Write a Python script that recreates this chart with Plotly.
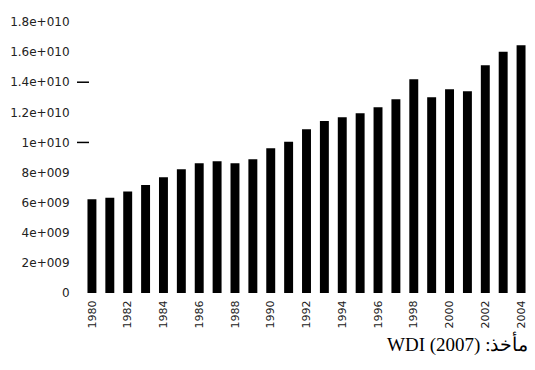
import plotly.graph_objects as go

years = list(range(1980, 2005))
values = [6.23e9, 6.33e9, 6.74e9, 7.18e9, 7.69e9, 8.22e9, 8.62e9, 8.75e9, 8.62e9, 8.88e9,
          9.61e9, 10.05e9, 10.88e9, 11.43e9, 11.67e9, 11.94e9, 12.34e9, 12.87e9, 14.2e9, 13.0e9,
          13.53e9, 13.40e9, 15.13e9, 16.03e9, 16.46e9]
x_tick_years = list(range(1980, 2005, 2))
x_tick_labels = [str(y) for y in x_tick_years]
y_tick_vals = [0, 2e9, 4e9, 6e9, 8e9, 1e10, 1.2e10, 1.4e10, 1.6e10, 1.8e10]
y_tick_labels = ["0", "2e+009", "4e+009", "6e+009", "8e+009", "1e+010",
                 "1.2e+010", "1.4e+010", "1.6e+010", "1.8e+010"]
dash_ticks = [1e10, 1.4e10]
source_text = "\u202bمأخذ: \u202aWDI (2007)\u202c\u202c"

fig = go.Figure()
fig.add_trace(go.Bar(x=years, y=values, marker=dict(color="black", line=dict(width=0))))

for v in dash_ticks:
    fig.add_shape(type="line", xref="paper", yref="y", x0=-0.0134, x1=0.0134,
                  y0=v, y1=v, line=dict(color="black", width=1.5))

fig.add_annotation(text=source_text, xref="paper", yref="paper", x=1.0, y=-0.185,
                   xanchor="right", yanchor="middle", showarrow=False,
                   font=dict(family="Liberation Serif", size=19, color="black"))

fig.update_layout(
    width=535, height=370,
    margin=dict(l=83, r=5, t=22, b=77),
    paper_bgcolor="white", plot_bgcolor="white",
    bargap=0.5, showlegend=False,
    font=dict(family="DejaVu Sans", size=12, color="#222"),
)
fig.update_xaxes(range=[1979.5, 2004.5], tickmode="array", tickvals=x_tick_years,
                 ticktext=x_tick_labels, tickangle=-90, showgrid=False, zeroline=False,
                 showline=False, ticks="outside", ticklen=2, tickcolor="rgba(0,0,0,0)",
                 tickfont=dict(size=11), automargin=False)
fig.update_yaxes(range=[0, 1.8e10], tickmode="array", tickvals=y_tick_vals,
                 ticktext=y_tick_labels, showgrid=False, zeroline=False, showline=False,
                 ticks="outside", ticklen=10, tickcolor="rgba(0,0,0,0)",
                 tickfont=dict(size=12), automargin=False)

fig.write_html("out.html", config={"displayModeBar": False},
               post_script="document.body.style.margin='0';")
